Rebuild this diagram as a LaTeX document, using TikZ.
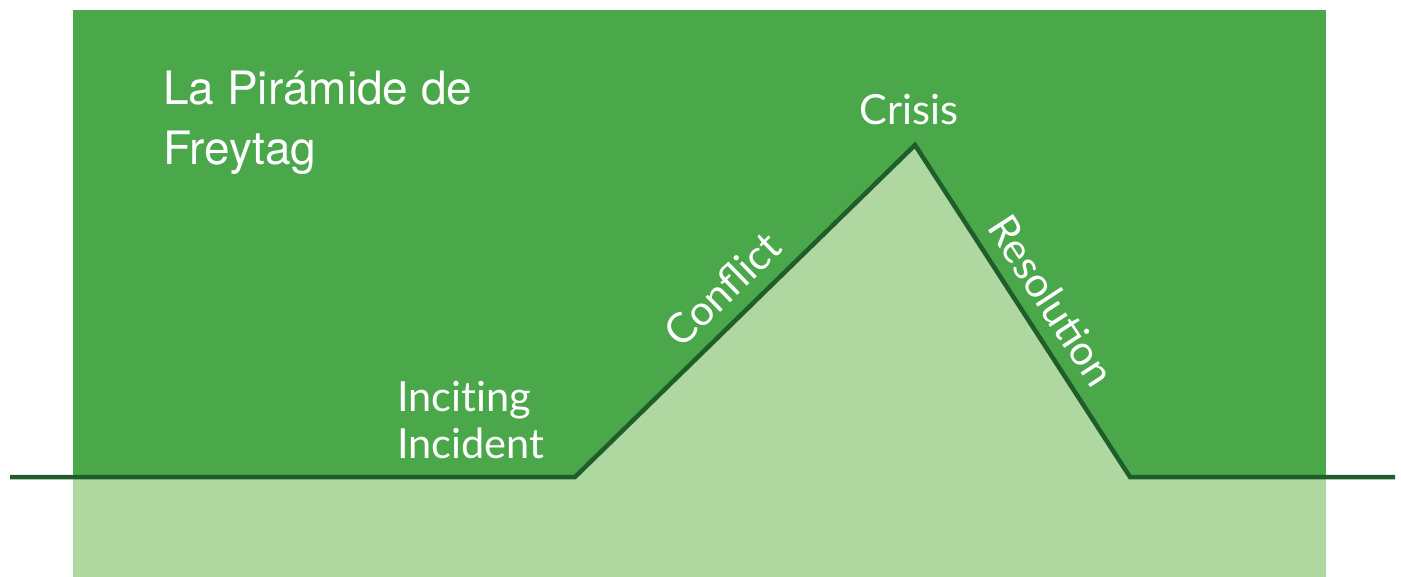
\documentclass[tikz,border=0pt]{standalone}
\usepackage{fontspec}
\setmainfont{Lato}
\newfontfamily\titlefont{TeX Gyre Heros}
\definecolor{dgreen}{HTML}{4AA84B}
\definecolor{lgreen}{HTML}{AFD8A0}
\definecolor{lineg}{HTML}{1F5E2A}
\begin{document}
\begin{tikzpicture}[x=1pt,y=-1pt,
  lbl/.style={text=white,font=\fontsize{41.5}{47}\selectfont,inner sep=0pt},
  ttl/.style={text=white,font=\titlefont\fontsize{46}{60}\selectfont,inner sep=0pt,align=left}]
\useasboundingbox (0,0) rectangle (1401,577);
\fill[dgreen] (73,10) rectangle (1326,577);
\coordinate (L) at (10,477);
\coordinate (A) at (575,477);
\coordinate (P) at (915,145);
\coordinate (B) at (1130,477);
\coordinate (R) at (1395,477);
\fill[lgreen] (73,477) -- (A) -- (P) -- (B) -- (1326,477) -- (1326,577) -- (73,577) -- cycle;
\draw[lineg,line width=4.5pt,line join=miter] (L) -- (A) -- (P) -- (B) -- (R);
\node[ttl,anchor=base west] (title) at (163,105) {La Pirámide de};
\node[ttl,anchor=base west] (title2) at (163,165) {Freytag};
\node[lbl,anchor=base west] (inc1) at (397,411) {Incit\kern0pt ing};
\node[lbl,anchor=base west] (inc2) at (397,458) {Incident};
\node[lbl,anchor=base] (crisis) at (909,125) {Crisis};
\node[lbl,anchor=base,rotate=44.3] (conf) at (733,300) {Conflict};
\node[lbl,anchor=base,rotate=-57] (res) at (1039,309) {Resolution};
\end{tikzpicture}
\end{document}
